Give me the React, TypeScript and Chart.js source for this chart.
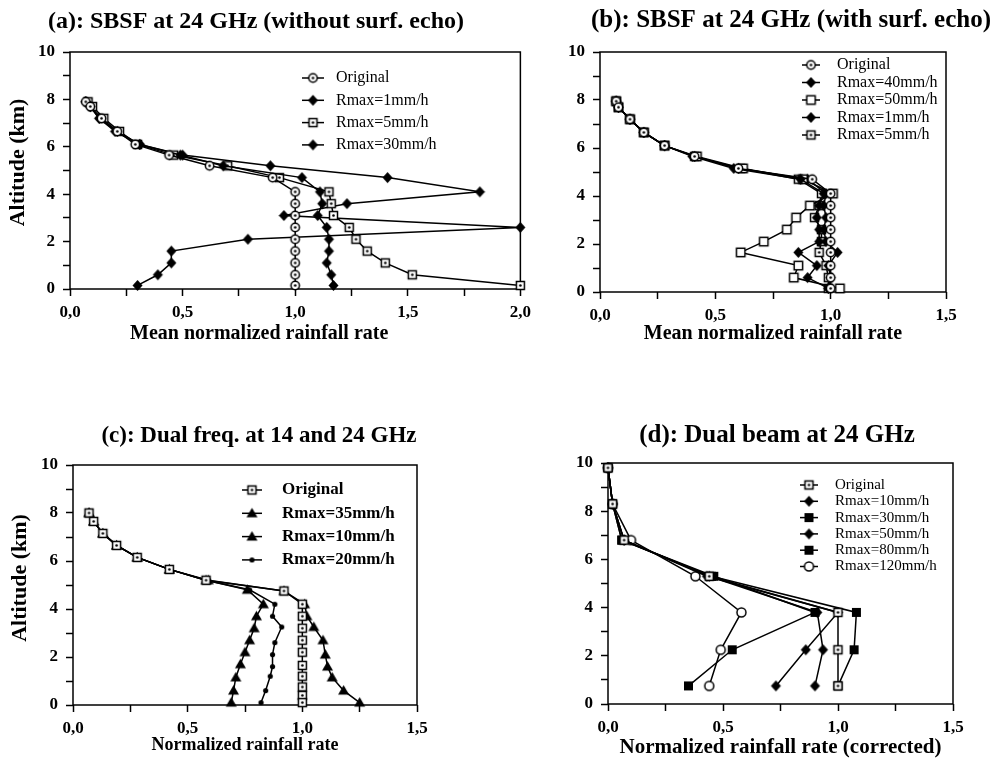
import React, { useEffect, useRef } from 'react';
import { Chart, registerables } from 'chart.js';
Chart.register(...registerables);

const SERIF = "'Liberation Serif', 'Times New Roman', serif";

// ---------- Panel (a): SBSF at 24 GHz (without surface echo) ----------
const altA = [7.9, 7.7, 7.2, 6.65, 6.1, 5.65, 5.2, 4.7, 4.1, 3.6, 3.1, 2.6, 2.1, 1.6, 1.1, 0.6, 0.15];
const aOriginal = [0.07, 0.09, 0.14, 0.21, 0.29, 0.44, 0.62, 0.9, 1.0, 1.0, 1.0, 1.0, 1.0, 1.0, 1.0, 1.0, 1.0];
const aR1 = [0.07, 0.09, 0.13, 0.2, 0.31, 0.49, 0.68, 1.03, 1.11, 1.12, 1.1, 1.14, 1.15, 1.15, 1.14, 1.16, 1.17];
const aR5 = [0.08, 0.1, 0.15, 0.22, 0.3, 0.46, 0.7, 0.93, 1.15, 1.16, 1.17, 1.24, 1.27, 1.32, 1.4, 1.52, 2.0];
const aR30 = [0.07, 0.09, 0.13, 0.21, 0.31, 0.5, 0.89, 1.41, 1.82, 1.23, 0.95, 2.0, 0.79, 0.45, 0.45, 0.39, 0.3];

// ---------- Panel (b): SBSF at 24 GHz (with surface echo) ----------
const altB = [7.95, 7.7, 7.2, 6.65, 6.1, 5.65, 5.15, 4.7, 4.1, 3.6, 3.1, 2.6, 2.1, 1.65, 1.1, 0.6, 0.15];
const bOriginal = [0.07, 0.08, 0.13, 0.19, 0.28, 0.41, 0.6, 0.92, 1.0, 1.0, 1.0, 1.0, 1.0, 1.0, 1.0, 1.0, 1.0];
const bR40 = [0.07, 0.08, 0.13, 0.19, 0.28, 0.4, 0.58, 0.87, 0.97, 0.95, 0.94, 0.95, 0.95, 0.86, 0.94, 0.9, 0.99];
const bR50 = [0.07, 0.08, 0.13, 0.19, 0.28, 0.42, 0.62, 0.88, 1.01, 0.91, 0.85, 0.81, 0.71, 0.61, 0.86, 0.84, 1.04];
const bR1 = [0.07, 0.08, 0.13, 0.19, 0.28, 0.41, 0.6, 0.9, 0.98, 0.97, 0.98, 0.97, 0.98, 1.03, 0.99, 1.0, 0.99];
const bR5 = [0.07, 0.08, 0.13, 0.19, 0.28, 0.41, 0.61, 0.86, 0.96, 0.95, 0.93, 0.96, 0.96, 0.95, 0.98, 0.99, 0.99];

// ---------- Panel (c): Dual frequency at 14 and 24 GHz ----------
const cAltOriginal = [8.0, 7.65, 7.15, 6.65, 6.15, 5.65, 5.2, 4.75, 4.2, 3.7, 3.2, 2.7, 2.2, 1.65, 1.2, 0.75, 0.4, 0.1];
const cOriginal = [0.07, 0.09, 0.13, 0.19, 0.28, 0.42, 0.58, 0.92, 1.0, 1.0, 1.0, 1.0, 1.0, 1.0, 1.0, 1.0, 1.0, 1.0];
const cAltR35 = [8.0, 7.65, 7.15, 6.65, 6.15, 5.65, 5.2, 4.75, 4.2, 3.7, 3.25, 2.7, 2.1, 1.6, 1.15, 0.6, 0.1];
const cR35 = [0.07, 0.09, 0.13, 0.19, 0.28, 0.42, 0.59, 0.92, 1.01, 1.02, 1.05, 1.09, 1.1, 1.11, 1.13, 1.18, 1.25];
const cAltR10 = [8.0, 7.65, 7.15, 6.65, 6.15, 5.65, 5.2, 4.8, 4.2, 3.7, 3.2, 2.7, 2.2, 1.7, 1.15, 0.6, 0.1];
const cR10 = [0.07, 0.09, 0.13, 0.19, 0.28, 0.42, 0.58, 0.76, 0.83, 0.8, 0.79, 0.77, 0.75, 0.73, 0.71, 0.7, 0.69];
const cAltR20 = [8.0, 7.65, 7.15, 6.65, 6.15, 5.65, 5.2, 4.8, 4.2, 3.7, 3.25, 2.6, 2.1, 1.6, 1.2, 0.6, 0.1];
const cR20 = [0.07, 0.09, 0.13, 0.19, 0.28, 0.42, 0.58, 0.77, 0.88, 0.87, 0.91, 0.88, 0.87, 0.87, 0.86, 0.84, 0.82];

// ---------- Panel (d): Dual beam at 24 GHz ----------
const altD = [9.8, 8.3, 6.8, 5.3, 3.8, 2.25, 0.75];
const dOriginal = [0.0, 0.02, 0.07, 0.44, 1.0, 1.0, 1.0];
const dR10 = [0.0, 0.02, 0.07, 0.44, 0.91, 0.935, 0.9];
const dR30 = [0.0, 0.02, 0.06, 0.45, 1.08, 1.07, 1.0];
const dR50 = [0.0, 0.02, 0.07, 0.43, 1.0, 0.86, 0.73];
const dR80 = [0.0, 0.02, 0.06, 0.46, 0.9, 0.54, 0.35];
const dR120 = [0.0, 0.02, 0.1, 0.38, 0.58, 0.49, 0.44];

type MarkerKind = 'dotcirc' | 'dotsq' | 'opensq' | 'opencirc' | 'diamond' | 'tri' | 'dot' | 'fillsq';

function makeMarker(kind: MarkerKind): HTMLCanvasElement {
  const s = 13;
  const c = document.createElement('canvas');
  c.width = s;
  c.height = s;
  const g = c.getContext('2d')!;
  const m = s / 2;
  g.lineWidth = 1.5;
  g.strokeStyle = '#000';
  g.fillStyle = '#000';
  const dot = () => {
    g.fillStyle = '#000';
    g.beginPath();
    g.arc(m, m, 1.3, 0, Math.PI * 2);
    g.fill();
  };
  switch (kind) {
    case 'dotsq':
      g.fillStyle = '#fff';
      g.fillRect(m - 4, m - 4, 8, 8);
      g.strokeRect(m - 4, m - 4, 8, 8);
      dot();
      break;
    case 'dotcirc':
      g.fillStyle = '#fff';
      g.beginPath();
      g.arc(m, m, 4.2, 0, Math.PI * 2);
      g.fill();
      g.stroke();
      dot();
      break;
    case 'opensq':
      g.fillStyle = '#fff';
      g.fillRect(m - 4.2, m - 4.2, 8.4, 8.4);
      g.strokeRect(m - 4.2, m - 4.2, 8.4, 8.4);
      break;
    case 'opencirc':
      g.fillStyle = '#fff';
      g.beginPath();
      g.arc(m, m, 4.5, 0, Math.PI * 2);
      g.fill();
      g.stroke();
      break;
    case 'diamond':
      g.beginPath();
      g.moveTo(m, m - 5.5);
      g.lineTo(m + 5, m);
      g.lineTo(m, m + 5.5);
      g.lineTo(m - 5, m);
      g.closePath();
      g.fill();
      break;
    case 'tri':
      g.beginPath();
      g.moveTo(m, m - 5.5);
      g.lineTo(m + 5.5, m + 4);
      g.lineTo(m - 5.5, m + 4);
      g.closePath();
      g.fill();
      break;
    case 'dot':
      g.beginPath();
      g.arc(m, m, 2.6, 0, Math.PI * 2);
      g.fill();
      break;
    case 'fillsq':
      g.fillRect(m - 4.5, m - 4.5, 9, 9);
      break;
  }
  return c;
}

const framePlugin = {
  id: 'frame',
  beforeDatasetsDraw(chart: any) {
    const { left, top, right, bottom } = chart.chartArea;
    const ctx = chart.ctx;
    ctx.save();
    ctx.strokeStyle = '#000';
    ctx.lineWidth = 1.5;
    ctx.strokeRect(left, top, right - left, bottom - top);
    ctx.restore();
  },
};

// shifts the axis-title anchor of a scale (the scanned figure has off-centre axis titles)
const titleShiftPlugin = {
  id: 'titleShift',
  beforeDraw(chart: any, _a: any, opts: any) {
    const sx = opts?.x || 0;
    const sy = opts?.y || 0;
    chart.scales.x.left += sx;
    chart.scales.x.right += sx;
    chart.scales.y.top += sy;
    chart.scales.y.bottom += sy;
  },
  afterDraw(chart: any, _a: any, opts: any) {
    const sx = opts?.x || 0;
    const sy = opts?.y || 0;
    chart.scales.x.left -= sx;
    chart.scales.x.right -= sx;
    chart.scales.y.top -= sy;
    chart.scales.y.bottom -= sy;
  },
};

const inLegendPlugin = {
  id: 'inLegend',
  afterDatasetsDraw(chart: any, _args: any, opts: any) {
    if (!opts || opts.x0 === undefined) return;
    const ctx = chart.ctx;
    ctx.save();
    chart.data.datasets.forEach((ds: any, i: number) => {
      const y = opts.y0 + i * opts.dy;
      ctx.strokeStyle = '#000';
      ctx.lineWidth = 1.5;
      ctx.beginPath();
      ctx.moveTo(opts.x0, y);
      ctx.lineTo(opts.x1, y);
      ctx.stroke();
      const img = ds.pointStyle as HTMLCanvasElement;
      ctx.drawImage(img, opts.mx - img.width / 2, y - img.height / 2);
      ctx.fillStyle = '#000';
      ctx.font = opts.font;
      ctx.textBaseline = 'middle';
      ctx.textAlign = 'left';
      ctx.fillText(ds.label, opts.tx, y);
    });
    ctx.restore();
  },
};

type Series = { label: string; xs: number[]; ys: number[]; marker: MarkerKind };
type Spec = {
  L: number; R: number; T: number; B: number;
  TX: number; TY: number; A: number;
  titleSize: number;
  axisSize: number;
  xMax: number;
  title: string;
  xTitle: string;
  xTitleY: number;
  xTitleShift: number;
  yTitle?: string;
  yTitleX?: number;
  yTitleShift: number;
  legend: { x0: number; x1: number; mx: number; tx: number; y0: number; dy: number; font: string };
  series: Series[];
};

const panels: Spec[] = [
  {
    L: 70, R: 521, T: 52, B: 289, TX: 256, TY: 21, A: -25, xMax: 2,
    titleSize: 24, axisSize: 20,
    title: '(a): SBSF at 24 GHz (without surf. echo)',
    xTitle: 'Mean normalized rainfall rate', xTitleY: 334, xTitleShift: -36,
    yTitle: 'Altitude (km)', yTitleX: 18, yTitleShift: -8,
    legend: { x0: 302, x1: 324, mx: 313, tx: 336, y0: 78, dy: 22.3, font: `16px ${SERIF}` },
    series: [
      { label: 'Original', xs: aOriginal, ys: altA, marker: 'dotcirc' },
      { label: 'Rmax=1mm/h', xs: aR1, ys: altA, marker: 'diamond' },
      { label: 'Rmax=5mm/h', xs: aR5, ys: altA, marker: 'dotsq' },
      { label: 'Rmax=30mm/h', xs: aR30, ys: altA, marker: 'diamond' },
    ],
  },
  {
    L: 600, R: 946, T: 52, B: 292, TX: 791, TY: 21, A: 555, xMax: 1.5,
    titleSize: 25, axisSize: 20,
    title: '(b): SBSF at 24 GHz (with surf. echo)',
    xTitle: 'Mean normalized rainfall rate', xTitleY: 334, xTitleShift: 0, yTitleShift: 0,
    legend: { x0: 802, x1: 820, mx: 811, tx: 837, y0: 65, dy: 17.5, font: `16px ${SERIF}` },
    series: [
      { label: 'Original', xs: bOriginal, ys: altB, marker: 'dotcirc' },
      { label: 'Rmax=40mm/h', xs: bR40, ys: altB, marker: 'diamond' },
      { label: 'Rmax=50mm/h', xs: bR50, ys: altB, marker: 'opensq' },
      { label: 'Rmax=1mm/h', xs: bR1, ys: altB, marker: 'diamond' },
      { label: 'Rmax=5mm/h', xs: bR5, ys: altB, marker: 'dotsq' },
    ],
  },
  {
    L: 73, R: 417, T: 465, B: 705, TX: 259, TY: 436, A: 0, xMax: 1.5,
    titleSize: 23, axisSize: 18,
    title: '(c): Dual freq. at 14 and 24 GHz',
    xTitle: 'Normalized rainfall rate', xTitleY: 745, xTitleShift: 0,
    yTitle: 'Altitude (km)', yTitleX: 20, yTitleShift: -7,
    legend: { x0: 242, x1: 262, mx: 252, tx: 282, y0: 490, dy: 23.3, font: `bold 17px ${SERIF}` },
    series: [
      { label: 'Original', xs: cOriginal, ys: cAltOriginal, marker: 'dotsq' },
      { label: 'Rmax=35mm/h', xs: cR35, ys: cAltR35, marker: 'tri' },
      { label: 'Rmax=10mm/h', xs: cR10, ys: cAltR10, marker: 'tri' },
      { label: 'Rmax=20mm/h', xs: cR20, ys: cAltR20, marker: 'dot' },
    ],
  },
  {
    L: 608, R: 953, T: 463, B: 704, TX: 777, TY: 436, A: 560, xMax: 1.5,
    titleSize: 25, axisSize: 21,
    title: '(d): Dual beam at 24 GHz',
    xTitle: 'Normalized rainfall rate (corrected)', xTitleY: 747, xTitleShift: 0, yTitleShift: 0,
    legend: { x0: 800, x1: 818, mx: 809, tx: 835, y0: 485, dy: 16.3, font: `15px ${SERIF}` },
    series: [
      { label: 'Original', xs: dOriginal, ys: altD, marker: 'dotsq' },
      { label: 'Rmax=10mm/h', xs: dR10, ys: altD, marker: 'diamond' },
      { label: 'Rmax=30mm/h', xs: dR30, ys: altD, marker: 'fillsq' },
      { label: 'Rmax=50mm/h', xs: dR50, ys: altD, marker: 'diamond' },
      { label: 'Rmax=80mm/h', xs: dR80, ys: altD, marker: 'fillsq' },
      { label: 'Rmax=120mm/h', xs: dR120, ys: altD, marker: 'opencirc' },
    ],
  },
];

const TICK_SIZE = 17;
const Y_TITLE_SIZE = 22;

function Panel({ spec }: { spec: Spec }) {
  const ref = useRef<HTMLCanvasElement>(null);
  const titleLH = spec.titleSize * 1.2;
  const axisLH = spec.axisSize * 1.2;
  const yLH = Y_TITLE_SIZE * 1.2;
  const E = 2 * spec.TX - spec.A;
  const wr = E - spec.R;
  const wy = spec.L - spec.A;
  const cx = spec.A;
  const W = E - spec.A;
  const padT = 2;
  const cy = Math.round(spec.TY - padT - titleLH / 2);
  const padB = spec.T - cy - padT - titleLH;
  const hx = Math.round(spec.xTitleY - spec.B + axisLH / 2);
  const H = spec.B + hx - cy;

  useEffect(() => {
    const canvas = ref.current!;
    const datasets = spec.series.map((s) => ({
      label: s.label,
      data: s.xs.map((x, i) => ({ x, y: s.ys[i] })),
      showLine: true,
      borderColor: '#000',
      borderWidth: 1.5,
      backgroundColor: '#000',
      pointStyle: makeMarker(s.marker) as any,
      pointRadius: 5,
      tension: 0,
      clip: false as any,
      xAxisID: 'x',
      yAxisID: 'y',
    }));
    const tickFont = { family: SERIF, size: TICK_SIZE, weight: 'bold' as const };
    const chart = new Chart(canvas, {
      type: 'scatter',
      data: { datasets },
      options: {
        responsive: false,
        devicePixelRatio: 1,
        animation: false,
        events: [],
        layout: { padding: 0 },
        plugins: {
          legend: { display: false },
          tooltip: { enabled: false },
          title: {
            display: true,
            text: spec.title,
            color: '#000',
            font: { family: SERIF, size: spec.titleSize, weight: 'bold' },
            padding: { top: padT, bottom: padB },
          },
          titleShift: { x: spec.xTitleShift, y: spec.yTitleShift },
          inLegend: {
            x0: spec.legend.x0 - cx,
            x1: spec.legend.x1 - cx,
            mx: spec.legend.mx - cx,
            tx: spec.legend.tx - cx,
            y0: spec.legend.y0 - cy,
            dy: spec.legend.dy,
            font: spec.legend.font,
          },
        } as any,
        scales: {
          x: {
            type: 'linear',
            position: 'bottom',
            min: 0,
            max: spec.xMax,
            afterFit: (s: any) => { s.height = hx; },
            ticks: {
              stepSize: 0.25,
              autoSkip: false,
              maxRotation: 0,
              color: '#000',
              font: tickFont,
              padding: 6,
              callback: (v: any) => {
                const n = Number(v);
                return Math.abs(n * 2 - Math.round(n * 2)) < 1e-6 ? n.toFixed(1).replace('.', ',') : '';
              },
            },
            grid: { display: true, drawOnChartArea: false, drawTicks: true, tickLength: 7, tickColor: '#000', tickWidth: 1.5 },
            border: { display: false },
            title: { display: true, text: spec.xTitle, color: '#000', font: { family: SERIF, size: spec.axisSize, weight: 'bold' }, padding: { top: 0, bottom: 0 } },
          },
          y: {
            type: 'linear',
            position: 'left',
            min: 0,
            max: 10,
            afterFit: (s: any) => { s.width = wy; },
            ticks: {
              stepSize: 1,
              autoSkip: false,
              color: '#000',
              font: tickFont,
              padding: 8,
              callback: (v: any) => {
                const n = Number(v);
                return Math.round(n) % 2 === 0 ? String(Math.round(n)) : '';
              },
            },
            grid: { display: true, drawOnChartArea: false, drawTicks: true, tickLength: 7, tickColor: '#000', tickWidth: 1.5 },
            border: { display: false },
            title: {
              display: !!spec.yTitle,
              text: spec.yTitle || '',
              color: '#000',
              font: { family: SERIF, size: Y_TITLE_SIZE, weight: 'bold' },
              padding: { top: (spec.yTitleX ?? 0) - spec.A - yLH / 2, bottom: 0 },
            },
          },
          yR: {
            type: 'linear',
            position: 'right',
            display: true,
            afterFit: (s: any) => { s.width = wr; },
            ticks: { display: false },
            grid: { display: false },
            border: { display: false },
          },
        },
      },
      plugins: [titleShiftPlugin, framePlugin, inLegendPlugin],
    } as any);
    return () => chart.destroy();
  }, []);

  return (
    <canvas
      ref={ref}
      width={W}
      height={H}
      style={{ position: 'absolute', left: cx, top: cy, width: W, height: H }}
    />
  );
}

export default function App() {
  return (
    <div style={{ position: 'fixed', left: 0, top: 0, width: 1002, height: 758, overflow: 'hidden', background: '#fff' }}>
      {panels.map((p, i) => (
        <Panel key={i} spec={p} />
      ))}
    </div>
  );
}
